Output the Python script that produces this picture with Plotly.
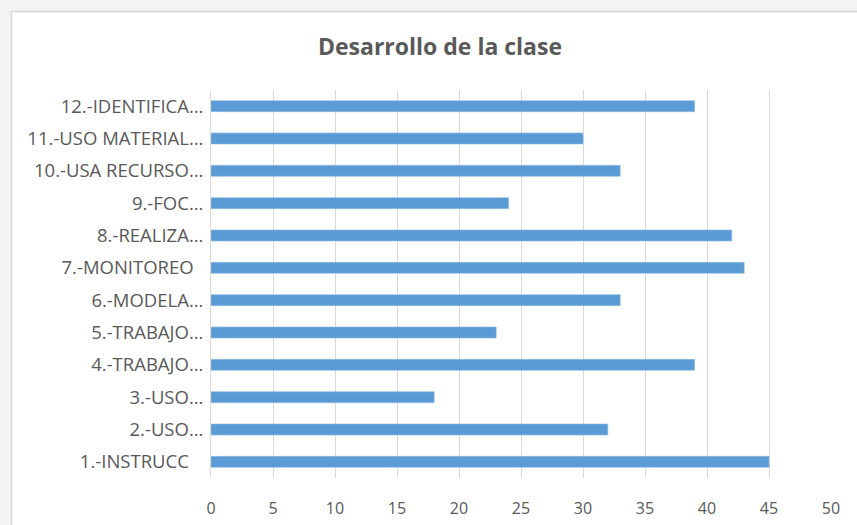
import plotly.graph_objects as go

categories = [
    "1.-INSTRUCC\u00a0\u00a0\u00a0",
    "2.-USO…",
    "3.-USO…",
    "4.-TRABAJO…",
    "5.-TRABAJO…",
    "6.-MODELA…",
    "7.-MONITOREO\u00a0\u00a0",
    "8.-REALIZA…",
    "9.-FOC…",
    "10.-USA RECURSO…",
    "11.-USO MATERIAL…",
    "12.-IDENTIFICA…",
]
values = [45, 32, 18, 39, 23, 33, 43, 42, 24, 33, 30, 39]
x_ticks = [0, 5, 10, 15, 20, 25, 30, 35, 40, 45, 50]

W, H = 857, 525
L, R, T, B = 211, 26, 90, 47
pw, ph = W - L - R, H - T - B

def px_to_paper_x(px):
    return (px - L) / pw

def py_to_paper_y(py):
    return (H - B - py) / ph

fig = go.Figure(go.Bar(
    x=values, y=categories, orientation="h",
    marker=dict(color="#5B9BD5", line=dict(color="#8fbbe3", width=0.6)),
    width=0.34,
))

font_family = "Open Sans, Liberation Sans, sans-serif"

fig.update_layout(
    width=W, height=H,
    margin=dict(l=L, r=R, t=T, b=B),
    paper_bgcolor="#f3f3f3",
    plot_bgcolor="rgba(0,0,0,0)",
    showlegend=False,
    title=dict(
        text="<b>Desarrollo de la clase</b>",
        x=440 / W, xanchor="center", xref="container",
        y=1 - 47 / H, yanchor="middle", yref="container",
        font=dict(family=font_family, size=23, color="#595959"),
    ),
    shapes=[dict(
        type="rect", xref="paper", yref="paper", layer="below",
        x0=px_to_paper_x(11.5), x1=px_to_paper_x(W + 20),
        y0=py_to_paper_y(H + 20), y1=py_to_paper_y(11.5),
        fillcolor="white", line=dict(color="#d6d6d6", width=1.5),
    )],
    xaxis=dict(
        range=[0, 50], tickvals=x_ticks, ticktext=[str(v) for v in x_ticks],
        showgrid=True, gridcolor="#d9d9d9", gridwidth=1,
        zeroline=False, showline=False, ticks="",
        ticklabelstandoff=19, automargin=False,
        tickfont=dict(family=font_family, size=16, color="#595959"),
        fixedrange=True,
    ),
    yaxis=dict(
        type="category", categoryorder="array", categoryarray=categories,
        showgrid=False, zeroline=False, showline=True, linecolor="#d9d9d9", linewidth=1,
        ticks="", ticklabelstandoff=3, automargin=False,
        tickfont=dict(family=font_family, size=18.5, color="#595959"),
        range=[-0.5, 11.5],
    ),
)

fig.write_html(
    "out.html",
    config={"displayModeBar": False},
    post_script="document.body.style.margin='0';document.body.style.overflow='hidden';",
)
